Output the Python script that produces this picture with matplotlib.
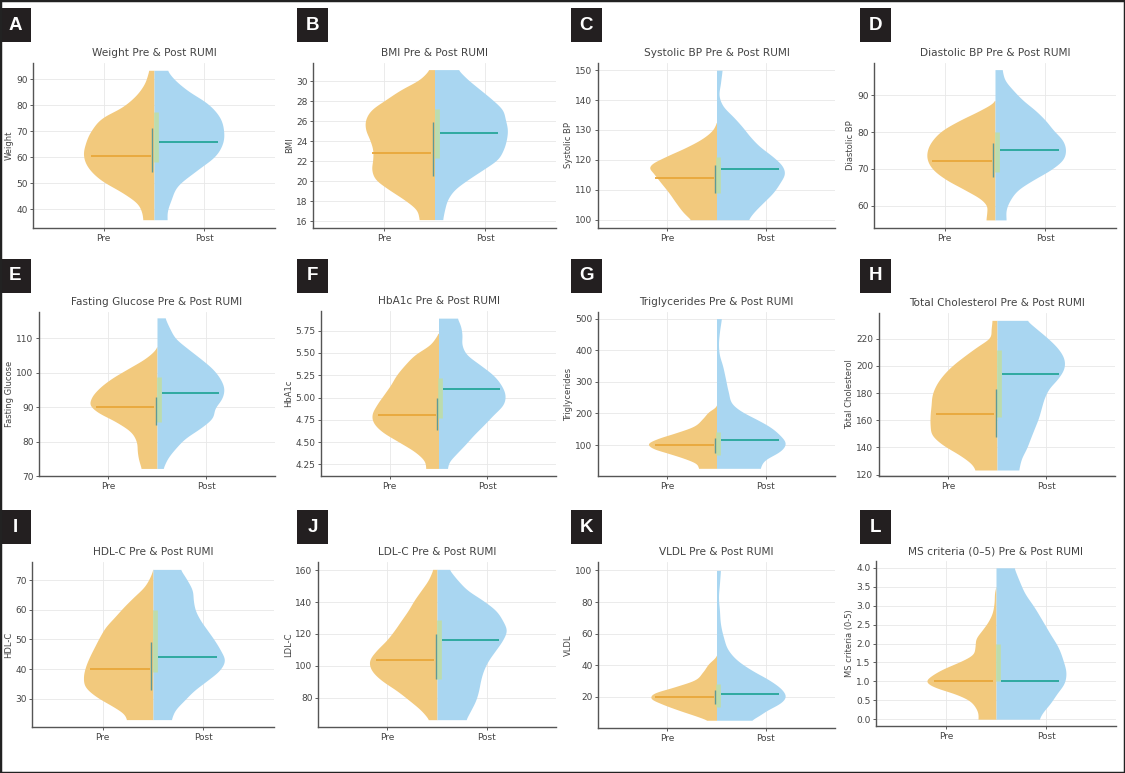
import numpy as np
import matplotlib
matplotlib.use("Agg")
import matplotlib.pyplot as plt
from matplotlib.patches import Rectangle
from matplotlib.ticker import FormatStrFormatter

# ---------------- data ----------------
letters = ["A", "B", "C", "D", "E", "F", "G", "H", "I", "J", "K", "L"]
measures = ["Weight", "BMI", "Systolic BP", "Diastolic BP", "Fasting Glucose", "HbA1c",
            "Triglycerides", "Total Cholesterol", "HDL-C", "LDL-C", "VLDL", "MS criteria (0-5)"]
titles = [m + " Pre & Post RUMI" for m in measures[:-1]] + ["MS criteria (0–5) Pre & Post RUMI"]
categories = ["Pre", "Post"]

pre_median = [60.5, 22.8, 114, 72, 90, 4.8, 100, 164.5, 40, 103.5, 20, 1.0]
post_median = [65.8, 24.8, 117, 75, 94, 5.1, 115, 193.8, 44, 116, 22, 1.0]

pre_q_lo = [54.2, 20.5, 108.9, 67.9, 84.8, 4.64, 74, 147.9, 32.8, 92, 15.8, 1.0]
pre_q_hi = [71.2, 25.9, 118.3, 76.9, 93.1, 4.99, 123, 183.3, 49.2, 120.2, 24.2, 1.0]
post_q_lo = [58, 22.3, 108.9, 69.2, 85.8, 4.77, 68, 162.5, 39, 92, 13.7, 1.0]
post_q_hi = [77.3, 27.2, 121.1, 80.1, 98.9, 5.22, 142, 211.4, 59.9, 128.6, 28.4, 2.0]

# violin half-width profiles: (value, half width)
weight_pre = [(93.5, .05), (88, .10), (83, .20), (79, .33), (75.5, .50), (70.4, .62), (65.3, .68),
              (60.8, .70), (56.4, .66), (51.3, .53), (46, .30), (42.3, .17), (38.5, .12), (35.9, .11)]
weight_post = [(93.5, .13), (90.9, .18), (85.8, .33), (80.7, .53), (75.5, .65), (70.4, .69), (65.3, .68),
               (60.2, .60), (55.1, .43), (48.7, .23), (43.6, .17), (38.5, .13), (35.9, .13)]
bmi_pre = [(31.17, .05), (30.17, .15), (29.17, .33), (28.17, .48), (27.17, .62), (26.17, .68), (25.17, .68),
           (24.17, .64), (23.17, .61), (22.17, .61), (21.17, .62), (20.17, .58), (19.17, .45), (18.17, .30),
           (17.17, .18), (16.17, .15)]
bmi_post = [(31.17, .23), (30.17, .33), (29.17, .45), (28.17, .57), (27.17, .67), (26.17, .70), (25.17, .72),
            (24.17, .71), (23.17, .68), (22.17, .62), (21.17, .48), (20.17, .33), (19.17, .20), (18.17, .13),
            (17.17, .10), (16.17, .08)]
sbp_pre = [(132.5, 0.0), (130, .04), (127, .15), (124, .32), (121, .52), (118.5, .66), (117.5, .68),
           (115.6, .64), (112.2, .56), (108.9, .48), (105.6, .41), (102.2, .33), (100, .26)]
sbp_post = [(150, .057), (145.6, .04), (141.1, .027), (137.8, .07), (134.4, .17), (131.1, .26), (127.8, .34),
            (124.4, .44), (121.1, .57), (117.8, .67), (115.6, .69), (112.2, .64), (108.9, .57), (105.6, .47),
            (102.2, .37), (100, .32)]
dbp_pre = [(88.6, 0.0), (88, .02), (85.9, .15), (83.2, .35), (80.5, .52), (77.8, .62), (75.1, .67), (72.4, .67),
           (69.7, .61), (67, .48), (64.3, .30), (61.5, .13), (59.7, .08), (58.8, .08), (56.1, .09)]
dbp_post = [(97, .07), (94.1, .10), (91.4, .18), (88.6, .28), (85.9, .40), (83.2, .50), (80.5, .58), (77.8, .67),
            (75.1, .70), (72.4, .67), (69.7, .55), (67, .38), (64.3, .23), (61.5, .15), (58.8, .11), (56.1, .11)]
fg_pre = [(107.6, 0.0), (107.1, .01), (104.2, .12), (101.3, .29), (98.4, .46), (95.5, .59), (92.6, .67),
          (90.6, .68), (88.7, .61), (85.8, .42), (82.9, .27), (80, .21), (77.1, .20), (75.2, .19), (72.2, .16)]
fg_post = [(116, .08), (112.9, .13), (110, .19), (107.1, .31), (104.2, .44), (101.3, .56), (98.4, .64),
           (95.5, .68), (92.6, .66), (89.7, .59), (86.8, .56), (83.9, .44), (81, .29), (78.1, .19), (75.2, .11),
           (72.2, .06)]
hba_pre = [(5.72, 0.0), (5.705, .01), (5.59, .09), (5.48, .24), (5.37, .34), (5.25, .43), (5.14, .49),
           (5.03, .56), (4.92, .63), (4.805, .68), (4.73, .67), (4.62, .58), (4.505, .41), (4.39, .24),
           (4.28, .14), (4.205, .13)]
hba_post = [(5.89, .19), (5.82, .22), (5.705, .24), (5.59, .24), (5.48, .29), (5.37, .42), (5.25, .56),
            (5.14, .64), (5.03, .68), (4.92, .66), (4.805, .56), (4.69, .46), (4.58, .36), (4.47, .27),
            (4.355, .17), (4.28, .11), (4.205, .09)]
tg_pre = [(226, 0.0), (221, .01), (205, .08), (184, .14), (158, .24), (137, .43), (121, .59), (105, .69),
          (89, .64), (74, .49), (58, .33), (42, .21), (26.3, .18)]
tg_post = [(500, .05), (458, .03), (416, .02), (384, .03), (353, .06), (311, .09), (268, .12), (226, .17),
           (205, .26), (184, .39), (158, .54), (132, .64), (105, .70), (79, .64), (53, .49), (26.3, .44)]
tc_pre = [(233.4, .05), (227.3, .06), (220, .08), (215.1, .18), (207.8, .32), (200.4, .45), (193.1, .55),
          (185.8, .62), (178.4, .66), (171.1, .67), (163.8, .68), (156.4, .68), (149.1, .66), (141.8, .55),
          (134.4, .38), (127.1, .25), (123.4, .22)]
tc_post = [(233.4, .30), (227.3, .40), (220, .52), (212.7, .62), (205.3, .68), (198, .68), (190.7, .62),
           (183.3, .53), (176, .48), (168.7, .45), (161.3, .42), (154, .38), (146.7, .34), (139.3, .30),
           (132, .25), (123.4, .22)]
hdl_pre = [(73.7, 0.0), (71.1, .03), (67.7, .09), (64.4, .19), (61, .29), (57.6, .38), (54.2, .47), (50.8, .53),
           (47.5, .58), (44.1, .63), (40.7, .67), (37.3, .69), (33.9, .67), (30.6, .56), (27.2, .39),
           (24.9, .29), (22.9, .26)]
hdl_post = [(73.7, .27), (70, .34), (66.6, .39), (63.2, .40), (59.9, .42), (56.5, .47), (53.1, .54),
            (49.7, .61), (46.3, .67), (43, .71), (39.6, .66), (36.2, .54), (32.8, .41), (29.4, .31),
            (26.1, .22), (22.9, .18)]
ldl_pre = [(160.6, .04), (153.7, .09), (147.4, .16), (141.2, .23), (134.9, .29), (128.6, .36), (122.3, .43),
           (116, .51), (109.7, .61), (103.5, .68), (97.2, .66), (90.9, .56), (84.6, .41), (78.3, .28),
           (72, .16), (66.2, .08)]
ldl_post = [(160.6, .12), (153.7, .21), (147.4, .31), (141.2, .46), (134.9, .59), (128.6, .66), (122.3, .70),
            (116, .66), (109.7, .59), (103.5, .52), (97.2, .47), (90.9, .44), (84.6, .42), (78.3, .39),
            (72, .34), (66.2, .29)]
vldl_pre = [(46.3, 0.0), (45.3, .01), (41, .08), (35.8, .14), (30.5, .23), (26.3, .43), (22.1, .64),
            (18.9, .66), (15.8, .56), (11.6, .38), (7.4, .18), (5.3, .09)]
vldl_post = [(100, .04), (91.6, .03), (83.2, .02), (74.7, .03), (66.3, .04), (57.9, .07), (49.5, .12),
             (43.2, .21), (36.8, .36), (30.5, .54), (24.2, .67), (20, .70), (15.8, .64), (11.6, .51),
             (7.4, .41), (5.3, .34)]
ms_pre = [(3.5, 0.0), (3.41, .01), (3.06, .02), (2.79, .04), (2.53, .09), (2.35, .14), (2.13, .20), (1.91, .21),
          (1.69, .24), (1.52, .36), (1.34, .52), (1.16, .64), (1.0, .70), (0.85, .62), (0.68, .42), (0.50, .27),
          (0.33, .21), (0.15, .18), (0.0, .18)]
ms_post = [(4.0, .18), (3.67, .23), (3.32, .29), (2.97, .38), (2.62, .46), (2.26, .54), (1.91, .62), (1.56, .67),
           (1.21, .70), (0.94, .68), (0.68, .61), (0.41, .54), (0.15, .46), (0.0, .43)]

pre_profiles = [weight_pre, bmi_pre, sbp_pre, dbp_pre, fg_pre, hba_pre, tg_pre, tc_pre,
                hdl_pre, ldl_pre, vldl_pre, ms_pre]
post_profiles = [weight_post, bmi_post, sbp_post, dbp_post, fg_post, hba_post, tg_post, tc_post,
                 hdl_post, ldl_post, vldl_post, ms_post]

ylims = [(32.7, 96.3), (15.33, 31.83), (97.2, 152.4), (53.9, 98.8), (70, 117.7), (4.12, 5.97),
         (2, 521), (119, 238.8), (20.4, 76.2), (61.6, 165.2), (0.4, 105.3), (-0.18, 4.18)]
yticks = [[40, 50, 60, 70, 80, 90], list(range(16, 31, 2)), [100, 110, 120, 130, 140, 150],
          [60, 70, 80, 90], [70, 80, 90, 100, 110], [4.25, 4.5, 4.75, 5.0, 5.25, 5.5, 5.75],
          [100, 200, 300, 400, 500], [120, 140, 160, 180, 200, 220], [30, 40, 50, 60, 70],
          [80, 100, 120, 140, 160], [20, 40, 60, 80, 100], [0, 0.5, 1, 1.5, 2, 2.5, 3, 3.5, 4]]
yfmt = [None, None, None, None, None, "%.2f", None, None, None, None, None, "%.1f"]

# ---------------- layout (pixels) ----------------
W, H = 1125, 773
axes_px = [(33, 63, 275, 228), (313, 63, 556, 228), (598, 63, 835, 228), (874, 63, 1116, 228),
           (39, 312, 275, 476), (321, 311, 556, 476), (598, 312, 835, 476), (879, 313, 1115, 476),
           (32, 562, 274, 727), (318, 562, 556, 727), (598, 562, 835, 728), (876, 561, 1116, 726)]
box_x = [0, 297, 571, 860]
box_y = [8, 259, 510]

PRE_FILL = "#F2C97D"
POST_FILL = "#A9D6F1"
PRE_MED = "#E9A73A"
POST_MED = "#26A69A"


def smooth_profile(pairs, n=400, sigma=6.0):
    ys = np.array([p[0] for p in pairs], dtype=float)
    ws = np.array([p[1] for p in pairs], dtype=float)
    o = np.argsort(ys)
    ys, ws = ys[o], ws[o]
    m = np.gradient(ws, ys)
    yy = np.linspace(ys[0], ys[-1], n)
    idx = np.clip(np.searchsorted(ys, yy) - 1, 0, len(ys) - 2)
    h = ys[idx + 1] - ys[idx]
    t = (yy - ys[idx]) / h
    h00 = 2 * t**3 - 3 * t**2 + 1
    h10 = t**3 - 2 * t**2 + t
    h01 = -2 * t**3 + 3 * t**2
    h11 = t**3 - t**2
    w = h00 * ws[idx] + h10 * h * m[idx] + h01 * ws[idx + 1] + h11 * h * m[idx + 1]
    # light gaussian rendering smoothing (edge padded)
    k = np.arange(-int(3 * sigma), int(3 * sigma) + 1)
    g = np.exp(-0.5 * (k / sigma) ** 2)
    g /= g.sum()
    pad = len(k) // 2
    wp = np.concatenate([np.full(pad, w[0]), w, np.full(pad, w[-1])])
    w = np.convolve(wp, g, mode="valid")
    return yy, np.clip(w, 0, None)


plt.rcParams['font.family'] = ['DejaVu Sans']
fig = plt.figure(figsize=(W / 100, H / 100), dpi=100)
fig.patch.set_facecolor("white")

for i in range(12):
    l, t, r, b = axes_px[i]
    ax = fig.add_axes([l / W, 1 - b / H, (r - l) / W, (b - t) / H])
    ax.set_xlim(-0.7, 1.7)
    ax.set_ylim(*ylims[i])
    ax.set_axisbelow(True)
    ax.grid(True, color="#e8e8e8", lw=0.6)
    for s in ("top", "right"):
        ax.spines[s].set_visible(False)
    for s in ("left", "bottom"):
        ax.spines[s].set_color("#555555")
        ax.spines[s].set_linewidth(1.0)

    yy, w = smooth_profile(pre_profiles[i])
    ax.fill_betweenx(yy, 0.5 - w, 0.5, color=PRE_FILL, lw=0)
    yy, w = smooth_profile(post_profiles[i])
    ax.fill_betweenx(yy, 0.5, 0.5 + w, color=POST_FILL, lw=0)

    ax.vlines(0.52, post_q_lo[i], post_q_hi[i], color="#BFDDA6", lw=3.4, alpha=0.9)
    ax.vlines(0.485, pre_q_lo[i], pre_q_hi[i], color="#5E9A96", lw=1.0)
    ax.hlines(pre_median[i], -0.12, 0.47, color=PRE_MED, lw=1.3)
    ax.hlines(post_median[i], 0.55, 1.13, color=POST_MED, lw=1.3)

    ax.set_xticks([0, 1])
    ax.set_xticklabels(categories)
    ax.set_yticks(yticks[i])
    if yfmt[i]:
        ax.yaxis.set_major_formatter(FormatStrFormatter(yfmt[i]))
    ax.tick_params(axis="both", labelsize=6.5, colors="#444444", length=2, width=0.6, pad=2)
    ax.set_ylabel(measures[i], fontsize=6, color="#444444", labelpad=1.5)
    ax.set_title(titles[i], fontsize=7.6, color="#444444", pad=5)

# panel letter boxes
for i, letter in enumerate(letters):
    x0 = box_x[i % 4]
    y0 = box_y[i // 4]
    fig.add_artist(Rectangle((x0 / W, 1 - (y0 + 34) / H), 31 / W, 34 / H,
                             transform=fig.transFigure, facecolor="#231f20", edgecolor="none"))
    fig.text((x0 + 15.5) / W, 1 - (y0 + 17) / H, letter, color="white", fontsize=13.5,
             fontweight="bold", family=["Liberation Sans", "DejaVu Sans"], ha="center", va="center")

# outer frame
fig.add_artist(Rectangle((0, 0), 1, 1, transform=fig.transFigure, fill=False,
                         edgecolor="#222222", lw=2.5))

fig.savefig("out.png", dpi=100)
